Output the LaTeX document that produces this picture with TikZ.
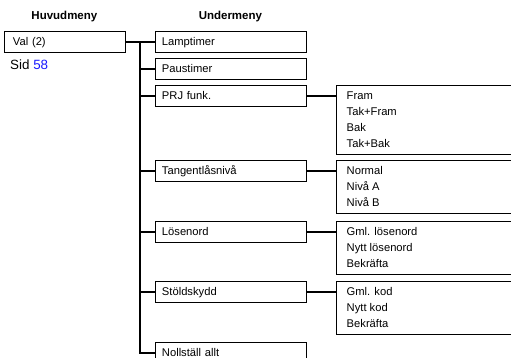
\documentclass[tikz,border=0pt]{standalone}
\usepackage{fontspec}
\setmainfont{Liberation Sans}
\definecolor{pagelink}{RGB}{25,25,255}
\begin{document}
\begin{tikzpicture}[x=1pt,y=-1pt,
  every node/.style={font=\fontsize{11.2}{16}\selectfont, inner sep=0pt},
  heading/.style={font=\fontsize{11.5}{14}\selectfont\bfseries, anchor=base},
  menubox/.style={draw, line width=0.9pt, anchor=north west, minimum height=21pt,
    text height=8pt, text depth=0.6pt, align=left},
  mainbox/.style={menubox, inner xsep=8.5pt, text width=103.5pt},
  subbox/.style={menubox, inner xsep=6.5pt, text width=138pt},
  listbox/.style={draw, line width=0.9pt, anchor=north west, minimum width=180pt},
  item/.style={anchor=base west},
  link/.style={line width=1.4pt}
]
\useasboundingbox (0,0) rectangle (511,358);
\clip (0,0) rectangle (511,358);

% column headings
\node[heading] (hmain) at (64.4,20) {Huvudmeny};
\node[heading] (hsub) at (230.4,20) {Undermeny};

% main menu entry
\node[mainbox] (val) at (4,31) {Val (2)};
\node[anchor=base west, font=\fontsize{13.4}{16}\selectfont] (page) at (10,70)
  {Sid \textcolor{pagelink}{58}};

% sub menu entries
\node[subbox] (lamp)  at (155,31)  {Lamptimer};
\node[subbox] (pause) at (155,58)  {Paustimer};
\node[subbox] (prj)   at (155,85)  {PRJ funk.};
\node[subbox] (tang)  at (155,160) {Tangentlåsnivå};
\node[subbox] (pwd)   at (155,221) {Lösenord};
\node[subbox] (theft) at (155,281) {Stöldskydd};
\node[subbox] (reset) at (155,342) {Nollställ allt};

% option lists
\node[listbox, minimum height=69pt] (prjlist) at (336,85) {};
\node[item] (o1) at (346.5,99.5)  {Fram};
\node[item] (o2) at (346.5,115.5) {Tak+Fram};
\node[item] (o3) at (346.5,131.5) {Bak};
\node[item] (o4) at (346.5,147.5) {Tak+Bak};

\node[listbox, minimum height=53pt] (tanglist) at (336,160) {};
\node[item] (t1) at (346.5,174.5) {Normal};
\node[item] (t2) at (346.5,190.5) {Nivå A};
\node[item] (t3) at (346.5,206.5) {Nivå B};

\node[listbox, minimum height=53pt] (pwdlist) at (336,221) {};
\node[item] (p1) at (346.5,235.5) {Gml. lösenord};
\node[item] (p2) at (346.5,251.5) {Nytt lösenord};
\node[item] (p3) at (346.5,267.5) {Bekräfta};

\node[listbox, minimum height=53pt] (theftlist) at (336,281) {};
\node[item] (s1) at (346.5,295.5) {Gml. kod};
\node[item] (s2) at (346.5,311.5) {Nytt kod};
\node[item] (s3) at (346.5,327.5) {Bekräfta};

% connectors
\coordinate (split) at (140,41.5);
\draw[link] (val.east) -- (lamp.west);
\draw[link] (split) |- (reset.west);
\foreach \n in {pause,prj,tang,pwd,theft}
  \draw[link] (split |- \n.west) -- (\n.west);
\foreach \n in {prj,tang,pwd,theft}
  \draw[link] (\n.east) -- (\n.east -| \n list.west);
\end{tikzpicture}
\end{document}
